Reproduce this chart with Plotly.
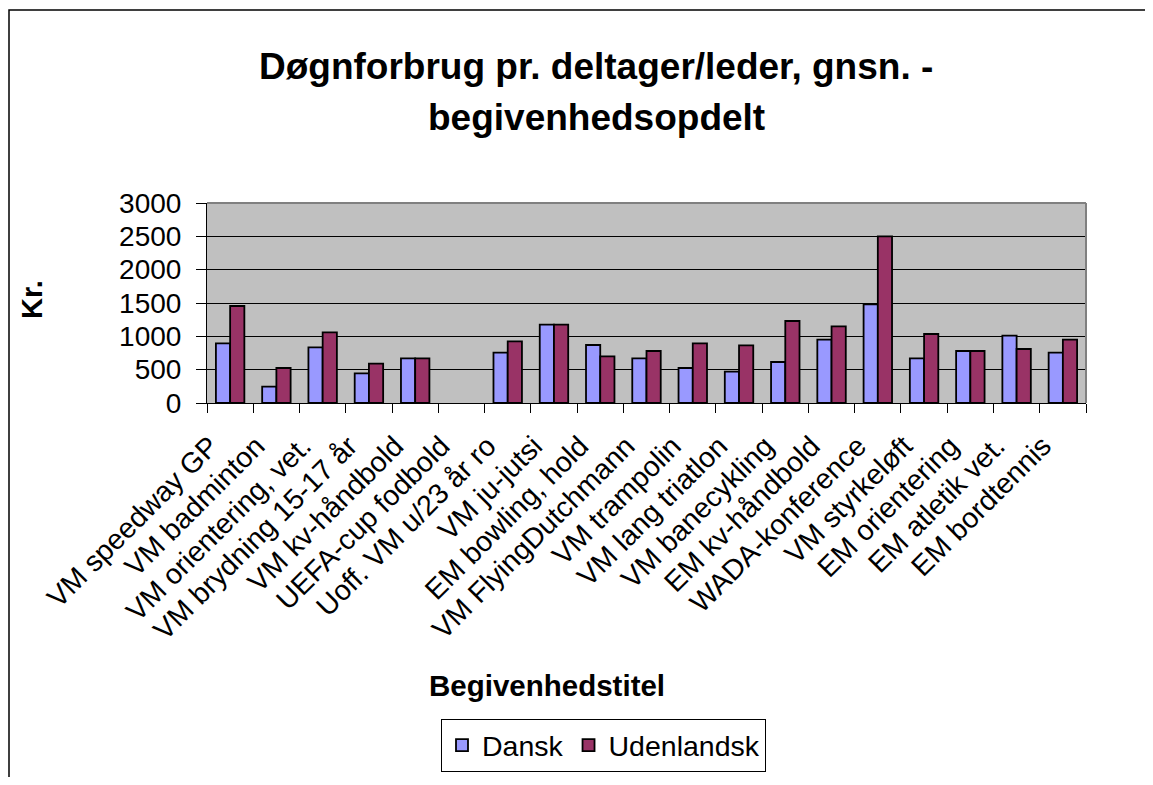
import plotly.graph_objects as go

categories = ["VM speedway GP", "VM badminton", "VM orientering, vet.", "VM brydning 15-17 år",
              "VM kv-håndbold", "UEFA-cup fodbold", "Uoff. VM u/23 år ro", "VM ju-jutsi",
              "EM bowling, hold", "VM FlyingDutchmann", "VM trampolin", "VM lang triatlon",
              "VM banecykling", "EM kv-håndbold", "WADA-konference", "VM styrkeløft",
              "EM orientering", "EM atletik vet.", "EM bordtennis"]
dansk = [895, 245, 835, 445, 670, None, 755, 1175, 870, 670, 525, 470, 615, 950, 1480, 670, 780, 1010, 755]
udenlandsk = [1455, 525, 1060, 590, 670, None, 925, 1175, 700, 780, 895, 865, 1230, 1150, 2500, 1035, 780, 810, 950]
y_ticks = [0, 500, 1000, 1500, 2000, 2500, 3000]

# the page body has an 8px margin; figure is sized so page coords = figure coords + 8
OFF = 8
W, H = 1153 - 2 * OFF, 785 - 2 * OFF
L, R, T, B = 207, 1086, 203, 403  # plot area in page pixels
FONT = "Arial, Liberation Sans, sans-serif"

def px(x):
    return (x - L) / (R - L)

def py(y):
    return (B - y) / (B - T)

fig = go.Figure()
fig.add_trace(go.Bar(name="Dansk", x=categories, y=dansk,
                     marker=dict(color="#9999FF", line=dict(color="black", width=1.8))))
fig.add_trace(go.Bar(name="Udenlandsk", x=categories, y=udenlandsk,
                     marker=dict(color="#993366", line=dict(color="black", width=1.8))))

fig.update_layout(
    width=W, height=H,
    margin=dict(l=L - OFF, r=W - (R - OFF), t=T - OFF, b=H - (B - OFF), autoexpand=False),
    paper_bgcolor="white", plot_bgcolor="#C0C0C0",
    font=dict(family=FONT, color="black"),
    barmode="group", bargap=0.385, bargroupgap=0,
    showlegend=True,
    legend=dict(orientation="h", x=px(441), y=py(719), xanchor="left", yanchor="top",
                xref="paper", yref="paper",
                bordercolor="black", borderwidth=1, bgcolor="white",
                font=dict(size=28.5, family=FONT)),
)

fig.update_xaxes(type="category", tickangle=-45, tickfont=dict(size=28.5, family=FONT),
                 showline=True, linecolor="black", linewidth=1,
                 ticks="outside", tickson="boundaries", ticklen=9, tickcolor="black",
                 ticklabelstandoff=14, ticklabelshift=-20,
                 showgrid=False, automargin=False)
fig.update_yaxes(range=[0, 3000], tickvals=y_ticks, tickfont=dict(size=28, family=FONT),
                 showline=True, linecolor="black", linewidth=1,
                 ticks="outside", ticklen=10, tickcolor="black", ticklabelstandoff=9,
                 showgrid=True, gridcolor="black", gridwidth=1,
                 zeroline=False, automargin=False)

# plot area top/right border (gray)
fig.add_shape(type="line", xref="paper", yref="paper", x0=0, x1=1, y0=1, y1=1,
              line=dict(color="#808080", width=2))
fig.add_shape(type="line", xref="paper", yref="paper", x0=1, x1=1, y0=0, y1=1,
              line=dict(color="#808080", width=2))
# outer chart border
fig.add_shape(type="rect", xref="paper", yref="paper", x0=px(9), x1=px(1175), y0=py(10), y1=py(800),
              line=dict(color="black", width=1.5), fillcolor="rgba(0,0,0,0)")

fig.add_annotation(text="<b>Døgnforbrug pr. deltager/leder, gnsn. -</b>", xref="paper", yref="paper",
                   x=px(596), y=py(66), xanchor="center", yanchor="middle", showarrow=False,
                   font=dict(size=37, family=FONT))
fig.add_annotation(text="<b>begivenhedsopdelt</b>", xref="paper", yref="paper",
                   x=px(596), y=py(118), xanchor="center", yanchor="middle", showarrow=False,
                   font=dict(size=37, family=FONT))
fig.add_annotation(text="<b>Kr.</b>", xref="paper", yref="paper", textangle=-90,
                   x=px(32), y=py(300), xanchor="center", yanchor="middle", showarrow=False,
                   font=dict(size=29, family=FONT))
fig.add_annotation(text="<b>Begivenhedstitel</b>", xref="paper", yref="paper",
                   x=px(547), y=py(685), xanchor="center", yanchor="middle", showarrow=False,
                   font=dict(size=29.5, family=FONT))

fig.write_html("out.html")
